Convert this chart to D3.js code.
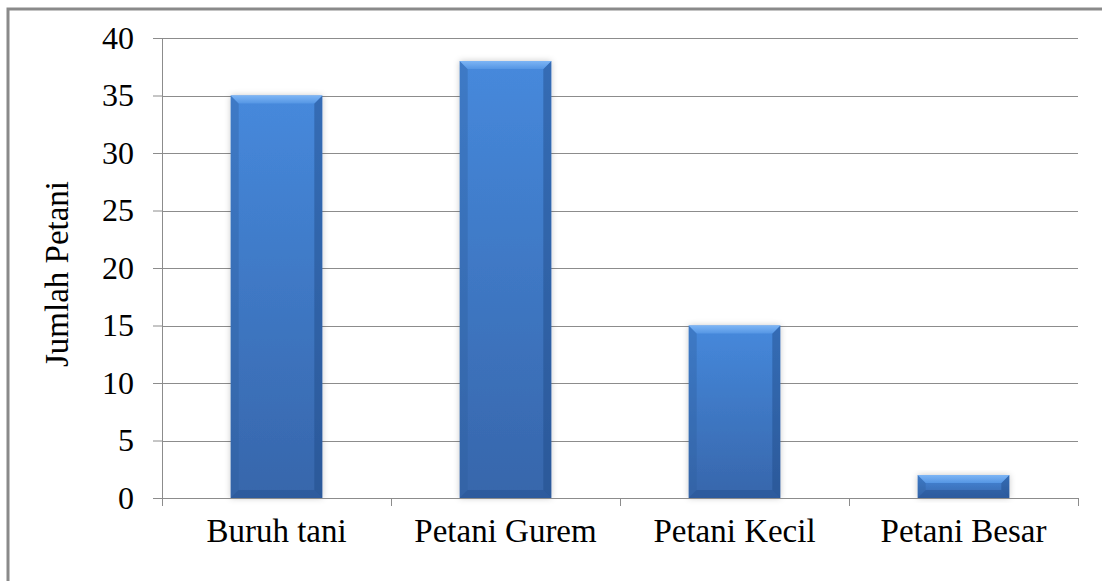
<!DOCTYPE html>
<html>
<head>
<meta charset="utf-8">
<script src="https://cdn.jsdelivr.net/npm/d3@7"></script>
<style>
  body { margin: 0; background: #fff; }
  svg { display: block; font-family: "Liberation Serif", "Times New Roman", serif; }
</style>
</head>
<body>
<div id="vis"></div>
<script>
const categories = ['Buruh tani', 'Petani Gurem', 'Petani Kecil', 'Petani Besar'];
const values = [35, 38, 15, 2];
const yTicks = [0, 5, 10, 15, 20, 25, 30, 35, 40];

const width = 1102;
const height = 581;
const margin = { top: 38, right: 24, bottom: 83, left: 162 };
const innerW = width - margin.left - margin.right;
const innerH = height - margin.top - margin.bottom;

const svg = d3.select('#vis')
  .append('svg')
  .attr('width', width)
  .attr('height', height);

const defs = svg.append('defs');

// body gradient of the bars
const grad = defs.append('linearGradient')
  .attr('id', 'barGrad')
  .attr('x1', 0).attr('y1', 0).attr('x2', 0).attr('y2', 1);
grad.append('stop').attr('offset', '0%').attr('stop-color', '#4689dc');
grad.append('stop').attr('offset', '100%').attr('stop-color', '#3766ab');

const topGrad = defs.append('linearGradient')
  .attr('id', 'topGrad')
  .attr('x1', 0).attr('y1', 0).attr('x2', 0).attr('y2', 1);
topGrad.append('stop').attr('offset', '0%').attr('stop-color', '#7db5f5');
topGrad.append('stop').attr('offset', '100%').attr('stop-color', '#5596e4');

const shadow = defs.append('filter')
  .attr('id', 'shadow')
  .attr('x', '-20%').attr('y', '-20%')
  .attr('width', '140%').attr('height', '140%');
shadow.append('feDropShadow')
  .attr('dx', 0).attr('dy', 0)
  .attr('stdDeviation', 3)
  .attr('flood-color', '#000')
  .attr('flood-opacity', 0.22);

// outer frame
svg.append('rect')
  .attr('x', 8).attr('y', 9)
  .attr('width', width + 20).attr('height', height + 20)
  .attr('fill', 'none')
  .attr('stroke', '#8a8a8a')
  .attr('stroke-width', 3);

const vis = svg.append('g')
  .attr('transform', 'translate(' + margin.left + ',' + margin.top + ')');

const x = d3.scaleBand()
  .domain(categories)
  .range([0, innerW])
  .paddingInner(0.6)
  .paddingOuter(0.3);

const y = d3.scaleLinear()
  .domain([0, 40])
  .range([innerH, 0]);

// gridlines
vis.append('g')
  .selectAll('line')
  .data(yTicks.filter(d => d > 0))
  .join('line')
  .attr('x1', 0).attr('x2', innerW)
  .attr('y1', d => Math.round(y(d)) + 0.5)
  .attr('y2', d => Math.round(y(d)) + 0.5)
  .attr('stroke', '#8c8c8c')
  .attr('stroke-width', 1);

// bars
const bev = 8;
const bars = vis.append('g')
  .selectAll('g')
  .data(values)
  .join('g')
  .attr('transform', (d, i) => 'translate(' + x(categories[i]) + ',' + y(d) + ')');

const bw = x.bandwidth();

bars.append('rect')
  .attr('width', bw)
  .attr('height', d => innerH - y(d))
  .attr('fill', 'url(#barGrad)')
  .attr('filter', 'url(#shadow)');

// left bevel
bars.append('path')
  .attr('d', d => {
    const h = innerH - y(d);
    const b = Math.min(bev, h / 2);
    return 'M0,0 L' + b + ',' + b + ' L' + b + ',' + (h - b) + ' L0,' + h + 'Z';
  })
  .attr('fill', '#2f5f9f')
  .attr('opacity', 0.35);

// right bevel
bars.append('path')
  .attr('d', d => {
    const h = innerH - y(d);
    const b = Math.min(bev, h / 2);
    return 'M' + bw + ',0 L' + (bw - b) + ',' + b + ' L' + (bw - b) + ',' + (h - b) + ' L' + bw + ',' + h + 'Z';
  })
  .attr('fill', '#1f4a85')
  .attr('opacity', 0.45);

// bottom bevel
bars.append('path')
  .attr('d', d => {
    const h = innerH - y(d);
    const b = Math.min(bev, h / 2);
    return 'M0,' + h + ' L' + b + ',' + (h - b) + ' L' + (bw - b) + ',' + (h - b) + ' L' + bw + ',' + h + 'Z';
  })
  .attr('fill', '#24508f')
  .attr('opacity', 0.5);

// top bevel
bars.append('path')
  .attr('d', d => {
    const b = Math.min(bev, (innerH - y(d)) / 2);
    return 'M0,0 L' + bw + ',0 L' + (bw - b) + ',' + b + ' L' + b + ',' + b + 'Z';
  })
  .attr('fill', 'url(#topGrad)');

// y axis
const yAxis = vis.append('g')
  .call(d3.axisLeft(y).tickValues(yTicks).tickSize(9).tickPadding(19));
yAxis.select('.domain').attr('stroke', '#8c8c8c').attr('d', 'M0.5,0V' + innerH);
yAxis.selectAll('.tick line').attr('stroke', '#8c8c8c');
yAxis.selectAll('text')
  .attr('font-size', 32)
  .attr('fill', '#000')
  .attr('font-family', '"Liberation Serif", serif');

// x axis
const xAxis = vis.append('g')
  .attr('transform', 'translate(0,' + innerH + ')')
  .call(d3.axisBottom(x).tickSize(0).tickPadding(21));
xAxis.select('.domain').attr('stroke', '#8c8c8c').attr('d', 'M0,0.5H' + innerW);
xAxis.selectAll('text')
  .attr('font-size', 33)
  .attr('fill', '#000')
  .attr('font-family', '"Liberation Serif", serif');

// category separators
vis.append('g')
  .selectAll('line')
  .data(d3.range(categories.length + 1))
  .join('line')
  .attr('x1', i => Math.round(i * x.step()) + 0.5)
  .attr('x2', i => Math.round(i * x.step()) + 0.5)
  .attr('y1', innerH)
  .attr('y2', innerH + 8)
  .attr('stroke', '#8c8c8c');

// axis title
vis.append('text')
  .attr('transform', 'translate(' + (-94) + ',' + (innerH / 2 + 6) + ') rotate(-90)')
  .attr('text-anchor', 'middle')
  .attr('font-size', 33)
  .attr('fill', '#000')
  .text('Jumlah Petani');
</script>
</body>
</html>
